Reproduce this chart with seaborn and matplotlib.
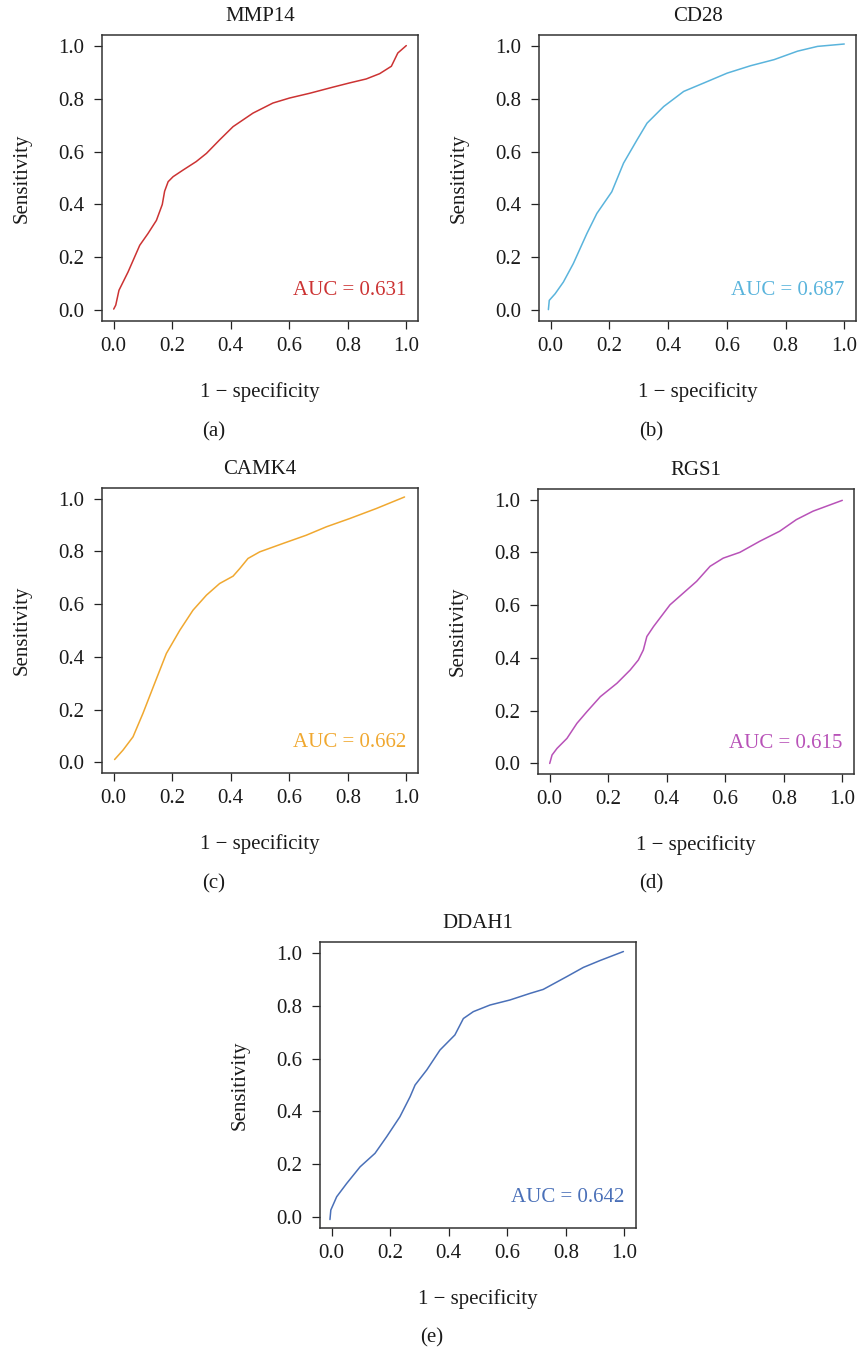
import matplotlib
matplotlib.use("Agg")
import matplotlib.pyplot as plt
import seaborn as sns
import pandas as pd

# ROC curves (1 - specificity, sensitivity)
genes = ["MMP14", "CD28", "CAMK4", "RGS1", "DDAH1"]
panel_tags = ["(a)", "(b)", "(c)", "(d)", "(e)"]
auc_values = [0.631, 0.687, 0.662, 0.615, 0.642]
colors = ["#cc3333", "#5ab4dc", "#f0a830", "#b852b8", "#4a70b8"]

mmp14_fpr = [0.0, 0.007, 0.018, 0.049, 0.089, 0.117, 0.146, 0.166, 0.174, 0.186, 0.203, 0.237,
             0.282, 0.317, 0.362, 0.408, 0.476, 0.544, 0.601, 0.67, 0.749, 0.806, 0.863, 0.909,
             0.949, 0.96, 0.971, 1.0]
mmp14_tpr = [0.005, 0.02, 0.076, 0.145, 0.246, 0.29, 0.34, 0.40, 0.45, 0.486, 0.505, 0.53,
             0.562, 0.593, 0.644, 0.694, 0.745, 0.783, 0.802, 0.82, 0.843, 0.859, 0.874, 0.894,
             0.922, 0.947, 0.972, 1.0]

cd28_fpr = [-0.008, -0.005, 0.015, 0.043, 0.077, 0.123, 0.157, 0.208, 0.248, 0.294, 0.328,
            0.385, 0.453, 0.522, 0.601, 0.681, 0.761, 0.841, 0.909, 1.0]
cd28_tpr = [0.003, 0.038, 0.063, 0.107, 0.177, 0.29, 0.366, 0.448, 0.556, 0.644, 0.707,
            0.77, 0.827, 0.859, 0.896, 0.924, 0.947, 0.979, 0.997, 1.006]

camk4_fpr = [0.003, 0.032, 0.066, 0.1, 0.14, 0.18, 0.226, 0.271, 0.317, 0.362, 0.408, 0.431,
             0.459, 0.499, 0.579, 0.658, 0.727, 0.806, 0.897, 0.994]
camk4_tpr = [0.011, 0.047, 0.097, 0.186, 0.30, 0.413, 0.501, 0.577, 0.634, 0.678, 0.706, 0.735,
             0.773, 0.798, 0.83, 0.861, 0.893, 0.924, 0.962, 1.006]

rgs1_fpr = [0.0, 0.008, 0.025, 0.059, 0.093, 0.127, 0.173, 0.23, 0.275, 0.303, 0.32, 0.332,
            0.355, 0.411, 0.457, 0.502, 0.548, 0.593, 0.65, 0.718, 0.786, 0.843, 0.9, 1.0]
rgs1_tpr = [0.0, 0.032, 0.057, 0.095, 0.152, 0.196, 0.253, 0.304, 0.354, 0.392, 0.43, 0.481,
            0.519, 0.601, 0.646, 0.69, 0.747, 0.778, 0.8, 0.842, 0.88, 0.924, 0.956, 0.997]

ddah1_fpr = [-0.006, -0.003, 0.017, 0.051, 0.097, 0.148, 0.188, 0.233, 0.268, 0.285, 0.325,
             0.37, 0.421, 0.45, 0.484, 0.541, 0.609, 0.678, 0.723, 0.803, 0.86, 0.917, 0.997]
ddah1_tpr = [-0.008, 0.028, 0.078, 0.128, 0.191, 0.242, 0.305, 0.38, 0.456, 0.5, 0.557,
             0.632, 0.689, 0.751, 0.777, 0.802, 0.821, 0.846, 0.861, 0.909, 0.944, 0.97, 1.004]

curves = [(mmp14_fpr, mmp14_tpr), (cd28_fpr, cd28_tpr), (camk4_fpr, camk4_tpr),
          (rgs1_fpr, rgs1_tpr), (ddah1_fpr, ddah1_tpr)]
ticks = [0.0, 0.2, 0.4, 0.6, 0.8, 1.0]

sns.set_style("ticks")
plt.rcParams["font.family"] = ["Liberation Serif", "DejaVu Serif"]
FS = 15

W, H = 859, 1350
fig = plt.figure(figsize=(W / 100, H / 100), dpi=100)

# axes boxes in pixels: left, top, right, bottom
boxes = [(102, 35, 418, 321), (539, 35, 856, 321),
         (102, 488, 418, 773), (538, 489, 854, 774),
         (320, 942, 636, 1228)]
# panel tag centers in pixels
tag_pos = [(214, 432), (651, 432), (214, 884), (651, 884), (432, 1338)]

for i, (l, t, r, b) in enumerate(boxes):
    ax = fig.add_axes([l / W, 1 - b / H, (r - l) / W, (b - t) / H])
    fpr, tpr = curves[i]
    df = pd.DataFrame({"fpr": fpr, "tpr": tpr})
    sns.lineplot(data=df, x="fpr", y="tpr", ax=ax, color=colors[i], lw=1.1,
                 sort=False, estimator=None)
    ax.set_xlim(-0.04, 1.04)
    ax.set_ylim(-0.04, 1.04)
    ax.set_xticks(ticks)
    ax.set_yticks(ticks)
    ax.set_xticklabels([f"{v:.1f}" for v in ticks])
    ax.set_yticklabels([f"{v:.1f}" for v in ticks])
    ax.tick_params(direction="out", length=5.5, width=0.9, colors="#222222",
                   labelsize=FS, labelcolor="#1a1a1a")
    ax.tick_params(axis="y", pad=7)
    ax.tick_params(axis="x", pad=6)
    for s in ax.spines.values():
        s.set_visible(True)
        s.set_linewidth(1.1)
        s.set_color("#333333")
    ax.set_xlabel("1 − specificity", fontsize=FS, va="center", color="#1a1a1a")
    ax.set_ylabel("Sensitivity", fontsize=FS, va="center", color="#1a1a1a")
    ax.xaxis.set_label_coords(0.5, -0.248)
    ax.yaxis.set_label_coords(-0.253, 0.5)
    ax.set_title(genes[i], fontsize=FS, y=1.066, pad=0, va="center", color="#1a1a1a")
    ax.text(1.0, 0.075, f"AUC = {auc_values[i]:.3f}", color=colors[i], fontsize=FS,
            ha="right", va="center")
    tx, ty = tag_pos[i]
    fig.text(tx / W, 1 - ty / H, panel_tags[i], ha="center", va="center",
             fontsize=FS, color="#1a1a1a")

fig.savefig("out.png", dpi=100, facecolor="white")
